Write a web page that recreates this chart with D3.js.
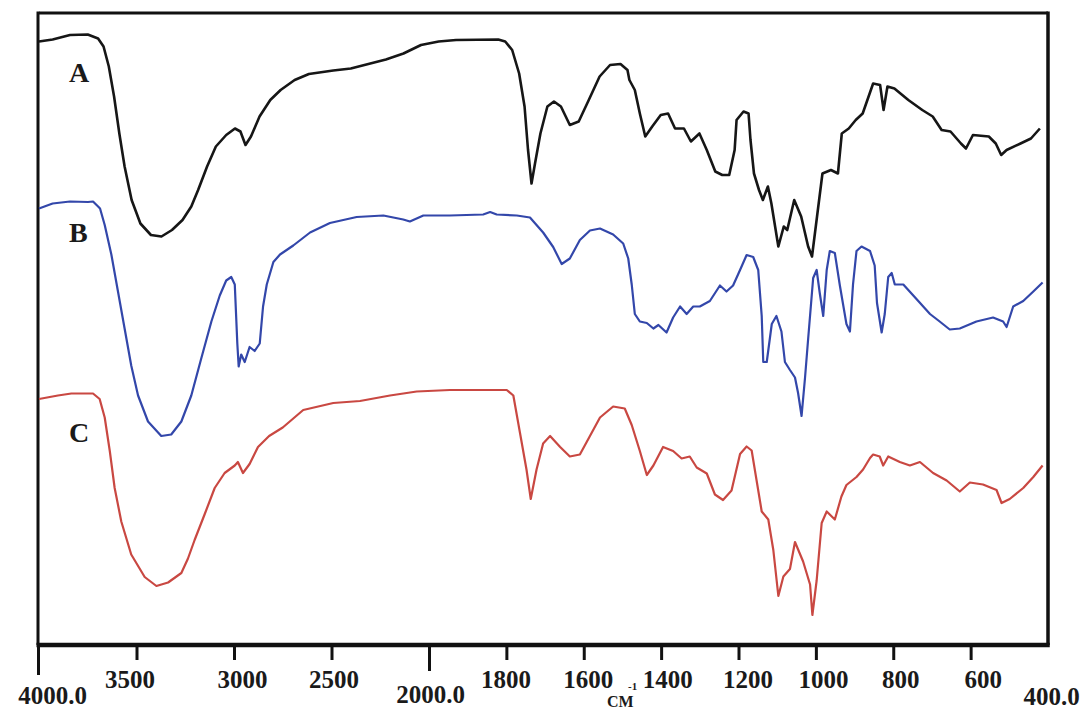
<!DOCTYPE html>
<html>
<head>
<meta charset="utf-8">
<script src="https://cdn.jsdelivr.net/npm/d3@7"></script>
<style>
  body { margin: 0; background: #fff; }
  svg text { font-family: "Liberation Serif", "Times New Roman", serif; font-weight: bold; fill: #1a1a1a; }
</style>
</head>
<body>
<script>
// IR spectra, [wavenumber cm-1, transmittance a.u.]
var spectrumA = [[4000,120.7],[3930,121.1],[3841,122],[3750,122.1],[3697,121.3],[3669,119.7],[3642,115.7],[3615,109.7],
  [3588,102.3],[3561,95.7],[3525,89],[3480,84.3],[3426,82],[3372,81.7],[3318,83],[3264,85],[3219,87.7],[3184,91],
  [3138,95.7],[3093,99.7],[3040,102],[2995,103.3],[2967,102.7],[2941,100],[2913,101.7],[2869,105.7],[2814,109],
  [2761,111],[2689,113],[2616,114.2],[2491,114.9],[2401,115.3],[2311,116.2],[2221,117.1],[2131,118.3],[2041,120],
  [1975,120.7],[1930,121],[1821,121.1],[1803,120.7],[1785,119],[1767,114.3],[1753,107.7],[1744,99],[1735,92.3],
  [1726,96.3],[1712,102.3],[1694,107.7],[1677,108.7],[1659,107.7],[1636,104],[1613,104.7],[1587,109],[1559,113.7],
  [1532,116],[1505,116.2],[1487,115],[1482,113],[1468,111],[1455,106.3],[1441,101.7],[1423,103.7],[1401,106],
  [1382,106.3],[1364,103.3],[1341,103.3],[1323,100.7],[1301,102.3],[1282,99],[1260,94.7],[1242,94],[1224,94],
  [1210,99],[1205,105],[1187,106.7],[1174,106.3],[1169,101],[1160,94.3],[1147,91],[1137,89],[1124,91.7],[1115,88.3],
  [1097,79.7],[1083,83.7],[1074,83],[1056,89],[1038,85.7],[1020,79.7],[1010,77.7],[997,85.7],[983,94.3],[961,95],
  [943,94.3],[933,102.3],[915,103.3],[897,105],[879,106.3],[852,112.3],[834,112],[825,107],[815,111.7],[797,111.3],
  [761,109],[725,107],[698,105.7],[675,103],[652,102.7],[625,100.3],[612,99.3],[594,102],[553,101.7],[535,100.3],
  [521,98],[507,99],[471,100.3],[444,101.3],[421,103.3]];

var spectrumB = [[4000,87.3],[3930,88.3],[3841,88.7],[3749,88.6],[3723,88.7],[3697,87.7],[3687,87.3],[3663,84],
  [3629,78.1],[3595,70.7],[3561,63.3],[3527,55.9],[3492,49.9],[3441,44.7],[3373,41.8],[3322,42.1],[3270,44.7],
  [3219,49.9],[3168,57.3],[3116,64.7],[3073,69.9],[3040,72.9],[3014,73.6],[2996,72.1],[2983,60.3],[2976,55.7],
  [2963,58.1],[2945,56.6],[2920,59.6],[2894,58.8],[2868,60.3],[2851,67.7],[2832,72.1],[2798,76.6],[2764,78.1],
  [2696,79.9],[2610,82.5],[2508,84.4],[2371,85.6],[2234,85.9],[2132,85.1],[2098,84.7],[2029,85.9],[1946,85.9],
  [1860,86.1],[1842,86.6],[1825,86.1],[1773,85.9],[1739,85.5],[1730,84.7],[1705,82.5],[1679,79.6],[1657,76.2],
  [1636,77.3],[1610,81],[1584,82.9],[1558,83.3],[1524,82.1],[1498,80.3],[1485,77.3],[1476,72.1],[1468,66.2],
  [1455,64.7],[1437,64.4],[1420,63.3],[1407,64],[1386,62.5],[1369,65.5],[1351,67.7],[1334,66.2],[1317,67.7],
  [1300,67.7],[1274,68.8],[1248,71.9],[1231,70.7],[1214,71.9],[1196,75],[1179,78],[1162,77.6],[1149,75],
  [1140,65.8],[1136,56.6],[1127,56.6],[1114,64.2],[1102,65.8],[1089,62.7],[1080,56.6],[1067,55],[1054,53.5],
  [1046,50.4],[1037,45.8],[1028,53.5],[1020,61.2],[1007,73.4],[998,75],[990,70.4],[981,65.8],[972,75],[964,78.8],
  [951,78.4],[938,71.9],[921,64.2],[912,62.7],[904,72.1],[895,78.8],[882,79.7],[860,78.8],[848,75.9],[842,68.4],
  [830,62.5],[822,66.2],[813,73.6],[804,74.4],[796,72.1],[774,72.1],[740,69.2],[705,66.2],[680,64.7],[654,63.1],
  [628,63.3],[585,64.7],[542,65.5],[516,64.7],[507,63.6],[490,67.7],[464,68.8],[438,70.7],[414,72.5]];

var spectrumC = [[4000,49.2],[3903,49.9],[3834,50.3],[3723,50.3],[3689,49.2],[3663,45.5],[3637,38.8],[3612,31.4],
  [3578,24.7],[3527,18.1],[3458,13.6],[3398,11.8],[3338,12.5],[3270,14.4],[3236,17.3],[3202,21],[3150,26.2],
  [3099,31.4],[3048,34.4],[2996,35.9],[2980,36.6],[2954,34.4],[2920,36.2],[2877,39.6],[2820,41.8],[2750,43.5],
  [2645,47],[2491,48.4],[2354,48.8],[2200,49.9],[2063,50.7],[1946,51],[1799,51],[1782,49.9],[1765,42.5],[1748,35.1],
  [1737,29.2],[1722,35.1],[1705,40.3],[1687,41.8],[1661,39.6],[1636,37.7],[1610,38.1],[1584,41.8],[1558,45.5],
  [1524,47.7],[1494,47.3],[1476,44],[1455,38.8],[1437,34],[1420,35.9],[1395,39.6],[1369,38.8],[1347,37.3],
  [1326,37.7],[1308,35.5],[1282,34.3],[1261,30.1],[1240,29],[1218,30.9],[1196,38.2],[1179,39.7],[1166,38.9],
  [1153,32.8],[1140,26.7],[1123,25.1],[1110,19],[1097,9.8],[1084,13.7],[1067,15.2],[1054,20.6],[1033,16.7],
  [1015,12.1],[1009,6],[998,12.9],[985,24.4],[972,26.7],[951,25.1],[934,29.7],[921,32],[895,33.6],[878,35.1],
  [860,37.4],[852,38.1],[835,37.7],[826,35.9],[813,37.7],[783,36.6],[757,35.9],[731,36.6],[697,34.4],[662,32.9],
  [628,30.7],[602,32.5],[568,32.1],[533,31],[520,28.4],[499,29.2],[464,31.4],[438,33.6],[414,35.9]];

var seriesNames = ["A", "B", "C"];
var seriesColors = ["#161616", "#3347aa", "#c94842"];

var tickValues = [4000, 3500, 3000, 2500, 2000, 1800, 1600, 1400, 1200, 1000, 800, 600, 400];
var tickLabels = ["4000.0", "3500", "3000", "2500", "2000.0", "1800", "1600", "1400", "1200", "1000", "800", "600", "400.0"];

var svgWidth = 1091;
var svgHeight = 709;

var svg = d3.select("body")
    .append("svg")
    .attr("width", svgWidth)
    .attr("height", svgHeight);

// the instrument uses a doubled scale below 2000 cm-1
var x = d3.scaleLinear()
    .domain([4000, 2000, 400])
    .range([39, 429, 1048]);

var y = d3.scaleLinear()
    .domain([0, 126.4])
    .range([645, 13]);

var line = d3.line()
    .x(d => x(d[0]))
    .y(d => y(d[1]));

// frame
var frame = svg.append("g").attr("stroke", "#111").attr("fill", "none");
frame.append("line").attr("x1", x(4000)).attr("x2", x(400)).attr("y1", y(126.4)).attr("y2", y(126.4)).attr("stroke-width", 3);
frame.append("line").attr("x1", x(400)).attr("x2", x(400)).attr("y1", y(126.4) - 1.5).attr("y2", y(0)).attr("stroke-width", 3.5);
frame.append("line").attr("x1", x(4000) - 1).attr("x2", x(4000) - 1).attr("y1", y(126.4) - 1.5).attr("y2", y(0)).attr("stroke-width", 3);
frame.append("line").attr("x1", x(4000) - 2.5).attr("x2", x(400) + 1.75).attr("y1", y(0)).attr("y2", y(0)).attr("stroke-width", 4.5);

// x axis
var labelDx = {4000: 13, 3500: -7, 3000: 8, 2500: 2, 2000: 1, 1800: -1, 1600: 4, 1400: 6, 1200: 9, 1000: 7, 800: 7, 600: 12, 400: 3};
var labelY = {4000: 59, 2000: 58, 400: 60};
var tickLen = {4000: 30, 2000: 26, 400: 0};

var xAxis = d3.axisBottom(x)
    .tickValues(tickValues)
    .tickSize(15)
    .tickFormat((d, i) => tickLabels[i]);

var xAxisGroup = svg.append("g")
    .attr("transform", `translate(0, ${y(0)})`)
    .call(xAxis);

xAxisGroup.select(".domain").remove();
xAxisGroup.selectAll(".tick line")
    .attr("stroke", "#111")
    .attr("stroke-width", 3)
    .attr("x1", d => d == 4000 ? -1 : 0)
    .attr("x2", d => d == 4000 ? -1 : 0)
    .attr("y2", d => d in tickLen ? tickLen[d] : 15);
xAxisGroup.selectAll(".tick text")
    .attr("fill", "#1a1a1a")
    .attr("font-size", 25)
    .attr("font-family", null)
    .attr("dy", 0)
    .attr("dx", d => labelDx[d])
    .attr("y", d => d in labelY ? labelY[d] : 43);

// unit label
svg.append("text").attr("x", 607).attr("y", 707).attr("font-size", 16).text("CM");
svg.append("text").attr("x", 628).attr("y", 690).attr("font-size", 11).text("-1");

// spectra
[spectrumA, spectrumB, spectrumC].forEach((s, i) => {
    svg.append("path")
        .datum(s)
        .attr("fill", "none")
        .attr("stroke", seriesColors[i])
        .attr("stroke-width", i == 0 ? 2.6 : 2.2)
        .attr("stroke-linejoin", "round")
        .attr("d", line);
});

// series letters
var letterY = [82, 242, 442];
seriesNames.forEach((n, i) => {
    svg.append("text")
        .attr("x", 69)
        .attr("y", letterY[i])
        .attr("font-size", 28)
        .attr("fill", "#111")
        .text(n);
});
</script>
</body>
</html>
